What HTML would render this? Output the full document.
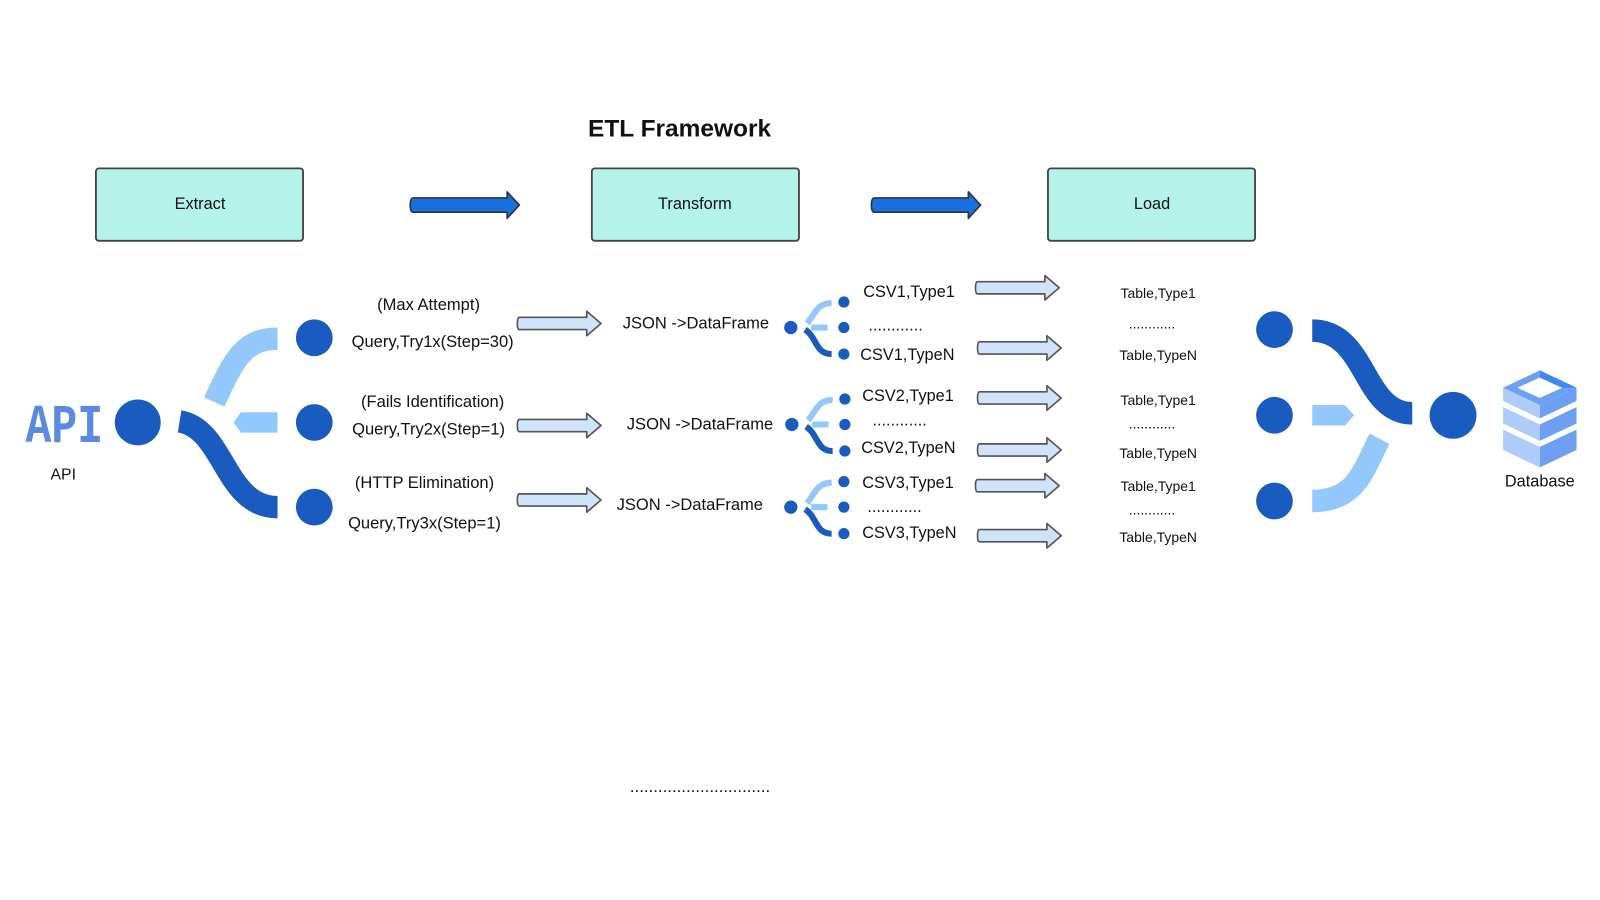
<!DOCTYPE html>
<html><head><meta charset="utf-8"><style>
html,body{margin:0;padding:0;background:#fff;}
svg{display:block;font-family:"Liberation Sans",sans-serif;}
</style></head><body>
<svg width="1600" height="900" viewBox="0 0 1600 900" xmlns="http://www.w3.org/2000/svg">
<defs>
<g id="la"><path d="M0,-6 L66,-6 L66,-12 L80,0 L66,12 L66,6 L0,6 Q-2,6 -2,0 Q-2,-6 0,-6 Z" fill="#cfe3fb" stroke="#555" stroke-width="1.6" stroke-linejoin="round"/></g>
<g id="ba"><path d="M0,-7 L92,-7 L92,-13 L104,0 L92,13 L92,7 L0,7 Q-3,7 -3,0 Q-3,-7 0,-7 Z" fill="#1870e0" stroke="#333" stroke-width="1.6" stroke-linejoin="round"/></g>
<g id="tree">
<circle cx="0" cy="0" r="6.5" fill="#1a5bbf"/>
<path d="M16,-4 C24,-14 26,-24 40,-24" stroke="#93c8fd" stroke-width="6" fill="none"/>
<rect x="20" y="-3" width="16" height="6" fill="#93c8fd"/>
<path d="M14,2 C26,10 24,26 40,26" stroke="#1a5bbf" stroke-width="6" fill="none"/>
<circle cx="52" cy="-25" r="5.5" fill="#1a5bbf"/>
<circle cx="52" cy="0" r="5.5" fill="#1a5bbf"/>
<circle cx="52" cy="26" r="5.5" fill="#1a5bbf"/>
</g>
</defs>
<g transform="scale(1.0204)">
<text x="666" y="134" text-anchor="middle" font-size="24" font-weight="bold" fill="#111">ETL Framework</text>

<rect x="94" y="165" width="203" height="71" rx="3" fill="#b5f2ea" stroke="#444" stroke-width="1.8"/>
<text x="196" y="205" text-anchor="middle" font-size="16" fill="#111">Extract</text>
<rect x="580" y="165" width="203" height="71" rx="3" fill="#b5f2ea" stroke="#444" stroke-width="1.8"/>
<text x="681" y="205" text-anchor="middle" font-size="16" fill="#111">Transform</text>
<rect x="1027" y="165" width="203" height="71" rx="3" fill="#b5f2ea" stroke="#444" stroke-width="1.8"/>
<text x="1129" y="205" text-anchor="middle" font-size="16" fill="#111">Load</text>

<use href="#ba" x="405" y="201"/>
<use href="#ba" x="857" y="201"/>

<text x="25" y="433" font-family="Liberation Mono,monospace" font-weight="bold" font-size="54" fill="#5b8ae0" textLength="76" lengthAdjust="spacingAndGlyphs">API</text>
<text x="62" y="470" text-anchor="middle" font-size="15.5" fill="#111">API</text>
<circle cx="135" cy="414" r="22.5" fill="#1a5bbf"/>
<path d="M210,394 C230,350 240,332 272,332" stroke="#93c8fd" stroke-width="22" fill="none"/>
<path d="M236,404 L272,404 L272,424 L236,424 L229,414 Z" fill="#93c8fd"/>
<path d="M176,413 C220,420 220,497 272,497" stroke="#1a5bbf" stroke-width="22" fill="none"/>
<circle cx="308" cy="331" r="18" fill="#1a5bbf"/>
<circle cx="308" cy="414" r="18" fill="#1a5bbf"/>
<circle cx="308" cy="497" r="18" fill="#1a5bbf"/>

<g font-size="16.2" fill="#111" text-anchor="middle">
<text x="420" y="304">(Max Attempt)</text>
<text x="424" y="340">Query,Try1x(Step=30)</text>
<text x="424" y="399">(Fails Identification)</text>
<text x="420" y="426">Query,Try2x(Step=1)</text>
<text x="416" y="478">(HTTP Elimination)</text>
<text x="416" y="518">Query,Try3x(Step=1)</text>
<text x="682" y="322">JSON -&gt;DataFrame</text>
<text x="686" y="421">JSON -&gt;DataFrame</text>
<text x="676" y="500">JSON -&gt;DataFrame</text>
</g>
<use href="#la" x="509" y="317"/>
<use href="#la" x="509" y="417"/>
<use href="#la" x="509" y="490"/>

<use href="#tree" x="775" y="321"/>
<use href="#tree" x="776" y="416"/>
<use href="#tree" x="775" y="497"/>

<g font-size="16" fill="#111">
<text x="846" y="291">CSV1,Type1</text>
<text x="851" y="324">............</text>
<text x="843" y="353">CSV1,TypeN</text>
<text x="845" y="393">CSV2,Type1</text>
<text x="855" y="417">............</text>
<text x="844" y="444">CSV2,TypeN</text>
<text x="845" y="478">CSV3,Type1</text>
<text x="850" y="502">............</text>
<text x="845" y="527">CSV3,TypeN</text>
</g>
<use href="#la" x="958" y="282"/>
<use href="#la" x="960" y="341"/>
<use href="#la" x="960" y="390"/>
<use href="#la" x="960" y="441"/>
<use href="#la" x="958" y="476"/>
<use href="#la" x="960" y="525"/>

<g font-size="13.7" fill="#111" text-anchor="middle">
<text x="1135" y="292">Table,Type1</text>
<text x="1129" y="322">............</text>
<text x="1135" y="353">Table,TypeN</text>
<text x="1135" y="397">Table,Type1</text>
<text x="1129" y="420">............</text>
<text x="1135" y="449">Table,TypeN</text>
<text x="1135" y="481">Table,Type1</text>
<text x="1129" y="504">............</text>
<text x="1135" y="531">Table,TypeN</text>
</g>

<circle cx="1249" cy="323" r="18" fill="#1a5bbf"/>
<circle cx="1249" cy="407" r="18" fill="#1a5bbf"/>
<circle cx="1249" cy="491" r="18" fill="#1a5bbf"/>
<path d="M1286,324 C1340,324 1335,405 1384,405" stroke="#1a5bbf" stroke-width="22" fill="none"/>
<path d="M1286,397 L1318,397 L1327,407 L1318,417 L1286,417 Z" fill="#93c8fd"/>
<path d="M1286,491 C1330,491 1336,460 1352,430" stroke="#93c8fd" stroke-width="22" fill="none"/>
<circle cx="1424" cy="407" r="23" fill="#1a5bbf"/>

<g>
<polygon points="1473,380 1509,363 1545,380 1509,397" fill="#6da0f2"/>
<polygon points="1487,380 1509,370 1531,380 1509,390" fill="#fff"/>
<polygon points="1509,363 1545,380 1531,380 1509,370" fill="#4285f4"/>
<polygon points="1473,380 1509,397 1509,410 1473,393" fill="#aecbfa"/>
<polygon points="1509,397 1545,380 1545,393 1509,410" fill="#6da0f2"/>
<polygon points="1473,399 1509,416 1509,432 1473,415" fill="#aecbfa"/>
<polygon points="1509,416 1545,399 1545,415 1509,432" fill="#6da0f2"/>
<polygon points="1473,421 1509,438 1509,458 1473,441" fill="#aecbfa"/>
<polygon points="1509,438 1545,421 1545,441 1509,458" fill="#6da0f2"/>
</g>
<text x="1509" y="477" text-anchor="middle" font-size="16" fill="#111">Database</text>

<text x="686" y="776" text-anchor="middle" font-size="16.5" fill="#111">..............................</text>
</g>
</svg>
</body></html>
